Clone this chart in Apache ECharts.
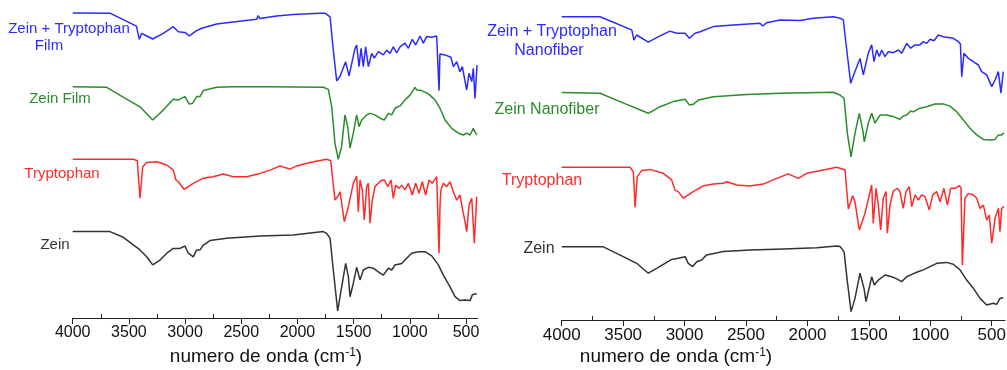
<!DOCTYPE html>
<html>
<head>
<meta charset="utf-8">
<script src="https://cdn.jsdelivr.net/npm/echarts@6/dist/echarts.min.js"></script>
<style>
  html, body { margin: 0; padding: 0; background: #fff; }
  #chart { width: 1007px; height: 370px; }
</style>
</head>
<body>
<div id="chart"></div>
<script>
// tick labels (wavenumber, cm-1)
const majorTicks = [4000, 3500, 3000, 2500, 2000, 1500, 1000, 500];
const minorTicks = [3750, 3250, 2750, 2250, 1750, 1250, 750];

// --- left panel: films (offset transmittance, a.u.) ---
const zeinTrpFilm = [[4000,101.7],[3668,101.6],[3433,97.3],[3407,92.9],[3386,94.9],[3341,94.0],[3288,93.0],[3194,94.9],[3105,97.1],[3060,95.4],[3001,95.2],[2962,94.0],[2932,94.9],[2897,95.8],[2852,96.6],[2719,98.0],[2571,98.7],[2363,99.6],[2350,100.8],[2335,99.8],[2185,100.7],[2037,101.2],[1799,101.6],[1755,101.6],[1710,100.4],[1681,89.3],[1651,79.0],[1621,80.6],[1571,85.4],[1541,80.7],[1488,89.9],[1473,91.0],[1452,83.8],[1434,89.9],[1414,83.8],[1393,90.4],[1369,83.8],[1339,88.2],[1316,86.6],[1280,88.8],[1236,87.7],[1206,89.3],[1176,88.2],[1147,90.4],[1117,88.4],[1087,90.4],[1043,91.6],[1013,89.9],[978,92.9],[948,91.0],[909,94.0],[880,91.6],[850,93.8],[805,93.6],[761,94.0],[748,93.8],[740,75.8],[732,88.0],[723,88.2],[687,87.7],[634,86.9],[613,83.8],[583,85.4],[554,82.1],[533,83.8],[494,76.0],[473,81.6],[449,78.8],[435,83.2],[420,73.2],[402,84.3]];
const zeinFilm = [[4000,77.1],[3697,76.9],[3608,74.9],[3401,70.4],[3288,66.0],[3194,69.3],[3105,72.9],[3060,72.7],[3001,73.8],[2962,71.3],[2932,71.6],[2897,73.8],[2867,73.8],[2838,75.8],[2719,76.9],[2571,77.1],[2274,77.1],[1770,76.9],[1725,76.2],[1695,70.4],[1666,58.2],[1637,52.9],[1607,57.1],[1577,67.7],[1553,63.8],[1532,56.6],[1503,61.6],[1473,67.7],[1452,63.8],[1428,66.0],[1384,67.7],[1354,68.2],[1310,67.7],[1265,66.6],[1227,66.0],[1191,68.2],[1161,67.7],[1132,69.9],[1087,70.7],[1043,72.7],[998,74.3],[954,76.9],[939,76.0],[894,75.8],[835,74.7],[776,72.7],[731,69.9],[687,66.0],[627,63.2],[568,61.6],[524,61.0],[494,61.6],[464,61.0],[435,63.2],[405,61.0]];
const trpFilmPanel = [[4000,52.9],[3461,52.9],[3425,52.4],[3401,39.9],[3377,50.4],[3342,51.8],[3252,52.1],[3163,51.0],[3105,49.3],[3081,46.0],[3060,45.4],[3010,42.9],[2927,44.9],[2838,46.6],[2749,47.1],[2660,48.0],[2571,47.1],[2452,47.1],[2333,48.2],[2244,49.3],[2155,50.7],[2066,49.6],[2007,50.7],[1888,51.8],[1740,52.9],[1704,52.4],[1666,39.3],[1642,40.4],[1621,42.1],[1583,32.1],[1547,37.1],[1503,44.9],[1473,47.3],[1458,35.4],[1443,46.0],[1423,42.7],[1405,32.7],[1384,43.8],[1369,44.9],[1354,31.6],[1334,39.3],[1310,43.8],[1280,44.9],[1256,45.8],[1227,46.0],[1197,43.8],[1167,46.0],[1147,39.9],[1126,44.3],[1096,43.2],[1072,44.3],[1043,42.7],[1013,44.9],[978,41.0],[948,44.9],[918,41.6],[889,45.4],[859,41.0],[829,46.0],[800,44.9],[761,47.1],[748,46.5],[740,21.6],[731,38.0],[723,42.7],[702,44.9],[672,43.8],[642,45.4],[613,42.1],[583,39.3],[554,41.0],[533,36.6],[509,32.1],[494,28.8],[473,37.7],[449,39.9],[426,24.9],[405,40.4]];
const zeinFilmPanel = [[4000,28.8],[3668,28.8],[3550,26.9],[3401,22.7],[3342,20.4],[3288,17.7],[3223,19.3],[3163,21.6],[3105,23.2],[3045,23.2],[3001,24.0],[2971,21.6],[2927,20.4],[2897,22.7],[2867,22.7],[2838,24.3],[2778,25.8],[2630,26.6],[2333,27.3],[2037,27.7],[1770,28.8],[1740,28.2],[1710,26.6],[1681,16.0],[1642,2.4],[1621,7.1],[1571,18.2],[1547,13.8],[1532,7.1],[1503,11.6],[1473,16.9],[1443,12.7],[1414,16.0],[1369,16.9],[1325,16.6],[1280,15.4],[1236,14.3],[1191,16.6],[1161,16.0],[1132,17.7],[1072,18.2],[1028,19.9],[983,21.6],[924,22.1],[865,22.1],[805,20.7],[746,17.7],[702,14.3],[642,10.4],[598,7.1],[554,5.8],[509,6.0],[464,5.8],[444,7.7],[426,8.0],[405,8.0]];

// --- right panel: nanofibers ---
const zeinTrpNano = [[4000,101.1],[3688,101.1],[3430,96.7],[3412,93.3],[3390,95.0],[3295,92.6],[3200,94.7],[3119,96.3],[3064,95.6],[2996,95.6],[2961,93.9],[2915,95.6],[2874,96.1],[2766,97.8],[2603,98.3],[2386,98.9],[2364,98.0],[2331,99.1],[2223,100.0],[2060,99.8],[1952,100.6],[1789,101.1],[1735,100.6],[1708,100.0],[1680,90.0],[1648,78.9],[1613,82.8],[1572,87.2],[1545,81.7],[1505,88.9],[1477,91.7],[1458,86.1],[1436,90.0],[1415,87.8],[1395,90.0],[1369,87.8],[1342,89.4],[1301,89.1],[1260,90.0],[1233,88.9],[1192,92.2],[1160,90.6],[1124,91.7],[1084,91.7],[1057,92.8],[1029,92.2],[1002,93.6],[970,93.1],[935,95.0],[894,94.4],[853,94.2],[813,93.9],[772,92.8],[755,92.0],[744,81.1],[726,88.9],[690,87.2],[650,86.1],[609,85.0],[582,82.8],[541,81.7],[500,77.8],[473,80.0],[446,82.8],[425,75.6],[406,82.8]];
const zeinNano = [[4000,75.8],[3688,75.6],[3525,72.8],[3295,68.9],[3200,71.1],[3092,72.8],[2996,73.6],[2961,71.7],[2928,71.9],[2888,73.3],[2766,74.4],[2494,75.2],[2223,75.6],[1789,75.9],[1735,75.0],[1702,73.9],[1675,62.2],[1645,54.4],[1613,62.2],[1578,68.9],[1550,63.3],[1537,59.4],[1505,65.6],[1477,68.9],[1450,65.6],[1409,68.3],[1355,68.3],[1301,67.8],[1247,66.9],[1220,68.0],[1192,68.3],[1160,69.7],[1138,69.4],[1084,70.6],[1029,71.1],[962,72.0],[894,72.0],[840,71.3],[785,69.4],[731,66.7],[677,63.9],[622,61.7],[568,60.2],[514,60.0],[473,60.2],[446,61.7],[419,61.7],[400,62.4]];
const trpNanoPanel = [[4000,50.9],[3444,50.9],[3417,49.4],[3403,37.6],[3385,47.8],[3349,49.8],[3281,50.2],[3173,48.9],[3105,46.7],[3078,43.3],[3051,42.8],[3010,40.6],[2929,42.8],[2848,44.7],[2766,45.3],[2685,45.6],[2657,46.1],[2576,45.0],[2467,44.7],[2359,45.3],[2250,47.2],[2156,48.7],[2074,47.2],[2006,48.9],[1871,50.0],[1762,50.9],[1735,50.6],[1694,50.0],[1667,37.0],[1632,41.4],[1613,39.4],[1578,30.0],[1531,35.6],[1477,45.0],[1464,32.2],[1442,43.9],[1423,38.3],[1404,30.0],[1383,40.6],[1360,42.8],[1350,28.9],[1328,38.3],[1301,43.0],[1268,43.9],[1247,42.8],[1220,37.2],[1198,42.8],[1171,44.4],[1151,37.8],[1124,41.7],[1097,40.0],[1070,41.7],[1043,41.1],[1008,36.7],[980,41.7],[948,42.8],[921,39.4],[889,43.9],[861,38.3],[834,43.9],[799,43.9],[764,44.8],[750,44.0],[739,18.3],[718,40.6],[690,42.2],[650,41.7],[622,40.6],[595,37.2],[568,38.3],[541,33.3],[520,35.0],[500,25.6],[473,33.9],[446,37.2],[433,29.4],[419,37.2],[400,37.8]];
const zeinNanoPanel = [[4000,24.4],[3661,24.4],[3499,21.1],[3390,18.9],[3295,15.6],[3227,17.2],[3159,18.9],[3105,20.2],[3051,20.6],[2996,21.1],[2970,18.9],[2934,17.8],[2901,19.4],[2861,20.0],[2820,21.7],[2685,22.8],[2467,23.3],[2196,23.7],[1925,24.1],[1762,24.7],[1735,24.5],[1702,22.8],[1675,12.8],[1645,2.8],[1613,7.2],[1572,15.6],[1540,10.6],[1523,6.1],[1477,14.4],[1456,11.7],[1423,13.3],[1369,15.0],[1314,14.4],[1273,13.7],[1233,12.8],[1192,14.4],[1151,15.2],[1111,15.9],[1057,16.7],[1002,17.8],[948,18.9],[867,19.2],[813,18.6],[758,16.7],[704,13.3],[650,10.6],[595,7.2],[541,5.0],[487,5.6],[460,5.2],[433,7.2],[406,7.4]];

const BLUE = '#2b2bff', GREEN = '#2a8c2a', RED = '#ff2a2a', BLACK = '#333333';
const FONT = '"Liberation Sans", Arial, sans-serif';

let myChart = echarts.init(document.getElementById('chart'));

function mainAxis(grid, min, fs) {
  return {
    type: 'value', gridIndex: grid, min: min, max: 4000, inverse: true, position: 'bottom',
    axisLine: { show: true, lineStyle: { color: '#222', width: 1 } },
    axisTick: { show: true, customValues: majorTicks, length: 6, lineStyle: { color: '#222' } },
    axisLabel: { customValues: majorTicks, formatter: v => String(v), color: '#111', fontSize: fs, fontFamily: FONT, margin: 7 },
    splitLine: { show: false }
  };
}
function minorAxis(grid, min) {
  return {
    type: 'value', gridIndex: grid, min: min, max: 4000, inverse: true, position: 'bottom',
    axisLine: { show: false },
    axisTick: { show: true, inside: true, customValues: minorTicks, length: 4, lineStyle: { color: '#222' } },
    axisLabel: { show: false },
    splitLine: { show: false }
  };
}
function spectrum(data, color, xi, yi) {
  return {
    type: 'line', data: data, xAxisIndex: xi, yAxisIndex: yi,
    showSymbol: false, symbol: 'none', silent: true,
    lineStyle: { color: color, width: 1.5 }
  };
}
function label(text, x, y, color, fs) {
  return {
    type: 'text', x: x, y: y, silent: true,
    style: { text: text, fill: color, font: fs + 'px ' + FONT, align: 'center', verticalAlign: 'middle' }
  };
}
function axisTitle(x, y, fs) {
  return {
    type: 'text', x: x, y: y, silent: true,
    style: {
      text: 'numero de onda (cm{sup|-1})', fill: '#111', fontSize: fs, fontFamily: FONT,
      align: 'center', verticalAlign: 'middle',
      rich: { sup: { fontSize: Math.round(fs * 0.62), fontFamily: FONT, fill: '#111', verticalAlign: 'top', padding: [0, 0, 8, 0] } }
    }
  };
}

let option = {
  animation: false,
  backgroundColor: '#fff',
  grid: [
    { left: 72.7, top: 3, width: 405, height: 315, outerBoundsMode: 'none', containLabel: false },
    { left: 561.7, top: 5, width: 443.3, height: 315, outerBoundsMode: 'none', containLabel: false }
  ],
  xAxis: [mainAxis(0, 396, 16), minorAxis(0, 396), mainAxis(1, 392, 17), minorAxis(1, 392)],
  yAxis: [
    { type: 'value', gridIndex: 0, min: 0, max: 105, show: false },
    { type: 'value', gridIndex: 1, min: 0, max: 105, show: false }
  ],
  series: [
    spectrum(zeinTrpFilm, BLUE, 0, 0),
    spectrum(zeinFilm, GREEN, 0, 0),
    spectrum(trpFilmPanel, RED, 0, 0),
    spectrum(zeinFilmPanel, BLACK, 0, 0),
    spectrum(zeinTrpNano, BLUE, 2, 1),
    spectrum(zeinNano, GREEN, 2, 1),
    spectrum(trpNanoPanel, RED, 2, 1),
    spectrum(zeinNanoPanel, BLACK, 2, 1)
  ],
  graphic: [
    label('Zein + Tryptophan', 69, 29, BLUE, 15),
    label('Film', 49, 46, BLUE, 15),
    label('Zein Film', 60, 99, GREEN, 15),
    label('Tryptophan', 62, 174, RED, 15),
    label('Zein', 55, 245, BLACK, 15),
    label('Zein + Tryptophan', 552, 32, BLUE, 16),
    label('Nanofiber', 549, 51, BLUE, 16),
    label('Zein Nanofiber', 547, 110, GREEN, 16),
    label('Tryptophan', 542, 181, RED, 16),
    label('Zein', 539, 249, BLACK, 16),
    axisTitle(266, 357, 19),
    axisTitle(676, 357, 19)
  ]
};
myChart.setOption(option);
</script>
</body>
</html>
